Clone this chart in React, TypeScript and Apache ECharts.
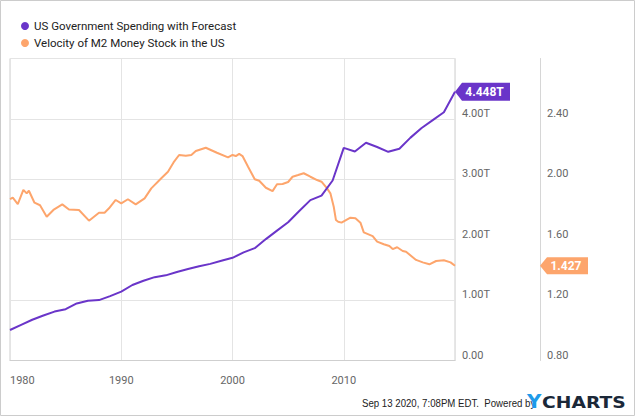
import React, { useEffect, useRef } from "react";
import * as echarts from "echarts";

const spendingYears = [1980, 1981, 1982, 1983, 1984, 1985, 1986, 1987, 1988, 1989, 1990, 1991, 1992, 1993, 1994, 1995, 1996, 1997, 1998, 1999, 2000, 2001, 2002, 2003, 2004, 2005, 2006, 2007, 2008, 2009, 2010, 2011, 2012, 2013, 2014, 2015, 2016, 2017, 2018, 2019, 2020];
const spendingValues = [0.505, 0.59, 0.675, 0.745, 0.81, 0.85, 0.945, 0.99, 1.0, 1.065, 1.14, 1.25, 1.32, 1.38, 1.41, 1.465, 1.515, 1.56, 1.6, 1.65, 1.7, 1.79, 1.86, 2.01, 2.15, 2.29, 2.475, 2.655, 2.73, 2.98, 3.52, 3.46, 3.605, 3.535, 3.455, 3.505, 3.69, 3.85, 3.98, 4.11, 4.448];

const velocityDates = [1980.0, 1980.25, 1980.7, 1981.2, 1981.5, 1981.7, 1982.2, 1982.7, 1983.3, 1983.9, 1984.7, 1985.3, 1986.2, 1987.1, 1988.0, 1988.5, 1988.9, 1989.5, 1990.0, 1990.6, 1991.3, 1992.1, 1992.7, 1993.6, 1994.2, 1994.7, 1995.2, 1995.8, 1996.3, 1996.7, 1997.6, 1998.6, 1999.6, 2000.0, 2000.3, 2000.6, 2000.9, 2001.4, 2002.0, 2002.4, 2003.0, 2003.6, 2004.0, 2004.5, 2005.0, 2005.4, 2005.9, 2006.4, 2007.0, 2007.6, 2008.0, 2008.5, 2008.8, 2009.1, 2009.3, 2009.5, 2009.8, 2010.6, 2011.05, 2011.5, 2011.8, 2012.6, 2013.0, 2013.6, 2014.1, 2014.4, 2014.8, 2015.3, 2015.6, 2016.5, 2017.1, 2017.7, 2018.3, 2019.0, 2019.6, 2020.0];
const velocityValues = [1.868, 1.878, 1.836, 1.93, 1.907, 1.924, 1.845, 1.828, 1.752, 1.797, 1.834, 1.8, 1.797, 1.726, 1.779, 1.779, 1.808, 1.863, 1.841, 1.868, 1.834, 1.874, 1.94, 2.007, 2.05, 2.112, 2.161, 2.156, 2.161, 2.187, 2.209, 2.176, 2.145, 2.161, 2.154, 2.168, 2.154, 2.083, 2.0, 1.99, 1.944, 1.922, 1.967, 1.969, 1.982, 2.017, 2.028, 2.04, 2.017, 1.995, 1.984, 1.94, 1.907, 1.818, 1.73, 1.719, 1.713, 1.746, 1.742, 1.713, 1.649, 1.624, 1.587, 1.57, 1.558, 1.538, 1.55, 1.525, 1.52, 1.466, 1.45, 1.437, 1.459, 1.464, 1.45, 1.427];

const seriesNames = ["US Government Spending with Forecast", "Velocity of M2 Money Stock in the US"];
const purple = "#6a35c9";
const orange = "#fda56c";
const labelFont = "Roboto, 'Noto Sans', sans-serif";

export default function App() {
  const ref = useRef<HTMLDivElement>(null);
  useEffect(() => {
    if (!ref.current) return;
    const chart = echarts.init(ref.current, undefined, { renderer: "svg" });
    const spending = spendingYears.map((y, i) => [y, spendingValues[i]]);
    const velocity = velocityDates.map((y, i) => [y, velocityValues[i]]);
    const lastS = spending[spending.length - 1];
    const lastV = velocity[velocity.length - 1];
    chart.setOption({
      animation: false,
      backgroundColor: "#fff",
      textStyle: { fontFamily: labelFont },
      legend: {
        orient: "vertical",
        left: 16,
        top: 14,
        icon: "circle",
        itemWidth: 8,
        itemHeight: 8,
        itemGap: 3,
        itemTextGap: 5,
        textStyle: { fontSize: 11.5, color: "#222", lineHeight: 14, fontFamily: labelFont },
        data: seriesNames,
      },
      grid: {
        left: 10,
        right: 180,
        top: 58.5,
        bottom: 55.5,
        show: true,
        borderColor: "#cfcfcf",
        borderWidth: 1,
      },
      xAxis: {
        type: "value",
        min: 1980,
        max: 2020,
        interval: 10,
        axisLine: { show: true, lineStyle: { color: "#cfcfcf" } },
        axisTick: { show: false },
        splitLine: { show: true, lineStyle: { color: "#e4e4e4" } },
        axisLabel: {
          color: "#666",
          fontSize: 11,
          margin: 14,
          showMaxLabel: false,
          alignMinLabel: "left",
          formatter: (v: number) => String(v),
        },
      },
      yAxis: [
        {
          type: "value",
          position: "right",
          min: 0,
          max: 5,
          interval: 1,
          axisLine: { show: false },
          axisTick: { show: false },
          splitLine: { show: true, lineStyle: { color: "#e4e4e4" } },
          axisLabel: {
            color: "#666",
            fontSize: 11,
            margin: 7,
            verticalAlign: "bottom",
            showMaxLabel: false,
            formatter: (v: number) => (v === 0 ? "0.00" : v.toFixed(2) + "T"),
          },
        },
        {
          type: "value",
          position: "right",
          offset: 85,
          min: 0.8,
          max: 2.8,
          interval: 0.4,
          axisLine: { show: true, lineStyle: { color: "#d6d6d6" } },
          axisTick: { show: false },
          splitLine: { show: false },
          axisLabel: {
            color: "#666",
            fontSize: 11,
            margin: 7,
            verticalAlign: "bottom",
            showMaxLabel: false,
            formatter: (v: number) => v.toFixed(2),
          },
        },
      ],
      series: [
        {
          name: seriesNames[0],
          type: "line",
          data: spending,
          yAxisIndex: 0,
          showSymbol: false,
          symbol: "none",
          lineStyle: { color: purple, width: 2 },
          itemStyle: { color: purple },
          z: 3,
          markPoint: {
            symbol: "path://M0,9L7,0L55,0L55,18L7,18Z",
            symbolSize: [55, 18],
            symbolKeepAspect: false,
            symbolOffset: ["50%", 0],
            itemStyle: { color: purple },
            label: {
              show: true,
              position: "inside",
              offset: [2, 0],
              color: "#fff",
              fontWeight: "bold",
              fontSize: 12,
              fontFamily: labelFont,
              formatter: () => (lastS[1] as number).toFixed(3) + "T",
            },
            data: [{ coord: lastS }],
          },
        },
        {
          name: seriesNames[1],
          type: "line",
          data: velocity,
          yAxisIndex: 1,
          showSymbol: false,
          symbol: "none",
          lineStyle: { color: orange, width: 2 },
          itemStyle: { color: orange },
          z: 2,
          markPoint: {
            symbol: "path://M0,8.5L7,0L48,0L48,17L7,17Z",
            symbolSize: [48, 17],
            symbolKeepAspect: false,
            symbolOffset: [85 + 24, 0],
            itemStyle: { color: orange },
            label: {
              show: true,
              position: "inside",
              offset: [2, 0],
              color: "#fff",
              fontWeight: "bold",
              fontSize: 12,
              fontFamily: labelFont,
              formatter: () => (lastV[1] as number).toFixed(3),
            },
            data: [{ coord: lastV }],
          },
        },
      ],
      graphic: [
        {
          type: "rect",
          shape: { x: 0.5, y: 0.5, width: 634, height: 415 },
          style: { fill: "none", stroke: "#cccccc", lineWidth: 1 },
          silent: true,
        },
        {
          type: "text",
          x: 362,
          y: 397,
          scaleX: 0.84,
          style: {
            text: "Sep 13 2020, 7:08PM EDT.  Powered by",
            fontSize: 11.5,
            fontFamily: "'Liberation Sans Narrow', 'Liberation Sans', sans-serif",
            fill: "#222",
          },
        },
        {
          type: "text",
          x: 527,
          y: 392,
          scaleX: 1.05,
          style: {
            text: "Y",
            fontSize: 19,
            fontWeight: "bold",
            fontFamily: "'DejaVu Sans', sans-serif",
            fill: "#1e9be9",
          },
        },
        {
          type: "text",
          x: 542,
          y: 394,
          scaleX: 1.17,
          style: {
            text: "CHARTS",
            fontSize: 16,
            fontWeight: "bold",
            fontFamily: "'DejaVu Sans', sans-serif",
            fill: "#1b2838",
          },
        },
      ],
    });
    return () => chart.dispose();
  }, []);
  return (
    <div
      ref={ref}
      style={{ position: "fixed", left: 0, top: 0, width: 635, height: 416, background: "#fff" }}
    />
  );
}
